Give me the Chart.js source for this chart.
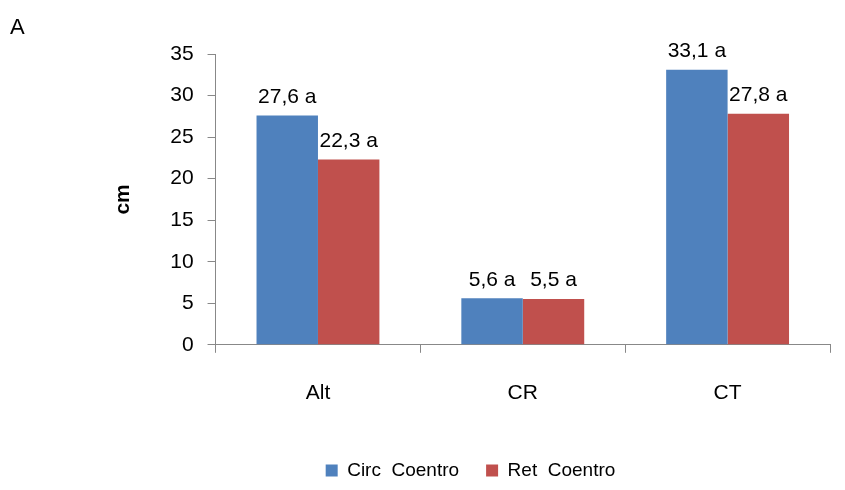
<!DOCTYPE html>
<html>
<head>
<meta charset="utf-8">
<script src="https://cdn.jsdelivr.net/npm/chart.js@4"></script>
<style>
body { margin: 0; background: #fff; }
#wrap { position: relative; width: 845px; height: 490px; }
#tag { position: absolute; left: 10px; top: 14px; font: 22px "Liberation Sans", Arial, sans-serif; }
</style>
</head>
<body>
<div id="wrap">
<div id="tag">A</div>
<canvas id="myChart" width="845" height="490"></canvas>
</div>
<script>
var categories = ["Alt", "CR", "CT"];
var circValues = [27.6, 5.6, 33.1];
var retValues = [22.3, 5.5, 27.8];
var circLabels = ["27,6 a", "5,6 a", "33,1 a"];
var retLabels = ["22,3 a", "5,5 a", "27,8 a"];
var yTicks = [0, 5, 10, 15, 20, 25, 30, 35];

var font = "Liberation Sans, Arial, sans-serif";

// draw the value labels above each bar
var barLabels = {
  id: "barLabels",
  afterDatasetsDraw: function(chart) {
    var ctx = chart.ctx;
    ctx.save();
    ctx.font = "21px " + font;
    ctx.fillStyle = "#000";
    ctx.textAlign = "center";
    ctx.textBaseline = "bottom";
    chart.data.datasets.forEach(function(ds, i) {
      chart.getDatasetMeta(i).data.forEach(function(bar, j) {
        ctx.fillText(ds.valueLabels[j], bar.x, bar.y - 8);
      });
    });
    ctx.restore();
  }
};

new Chart(document.getElementById("myChart"), {
  type: "bar",
  data: {
    labels: categories,
    datasets: [
      { label: "Circ  Coentro", data: circValues, valueLabels: circLabels, backgroundColor: "#4F81BD" },
      { label: "Ret  Coentro", data: retValues, valueLabels: retLabels, backgroundColor: "#C0504D" }
    ]
  },
  options: {
    responsive: false,
    animation: false,
    layout: { padding: { left: 111, right: 15, top: 54, bottom: 0 } },
    plugins: {
      tooltip: { enabled: false },
      legend: {
        position: "bottom",
        labels: { font: { size: 19, family: font }, color: "#000", boxWidth: 12, boxHeight: 12, padding: 27 }
      }
    },
    datasets: { bar: { categoryPercentage: 0.6, barPercentage: 1 } },
    scales: {
      x: {
        grid: { display: true, drawOnChartArea: false, offset: true, tickLength: 8, color: "#888" },
        border: { color: "#888" },
        ticks: { font: { size: 21, family: font }, color: "#000", padding: 28 }
      },
      y: {
        min: 0, max: 35,
        afterBuildTicks: function(axis) { axis.ticks = yTicks.map(function(v) { return { value: v }; }); },
        grid: { display: true, drawOnChartArea: false, tickLength: 8, color: "#888" },
        border: { color: "#888" },
        ticks: { font: { size: 21, family: font }, color: "#000", padding: 14 },
        title: { display: true, text: "cm", font: { size: 21, weight: "bold", family: font }, color: "#000", padding: { top: 0, bottom: 20 } }
      }
    }
  },
  plugins: [barLabels]
});
</script>
</body>
</html>
